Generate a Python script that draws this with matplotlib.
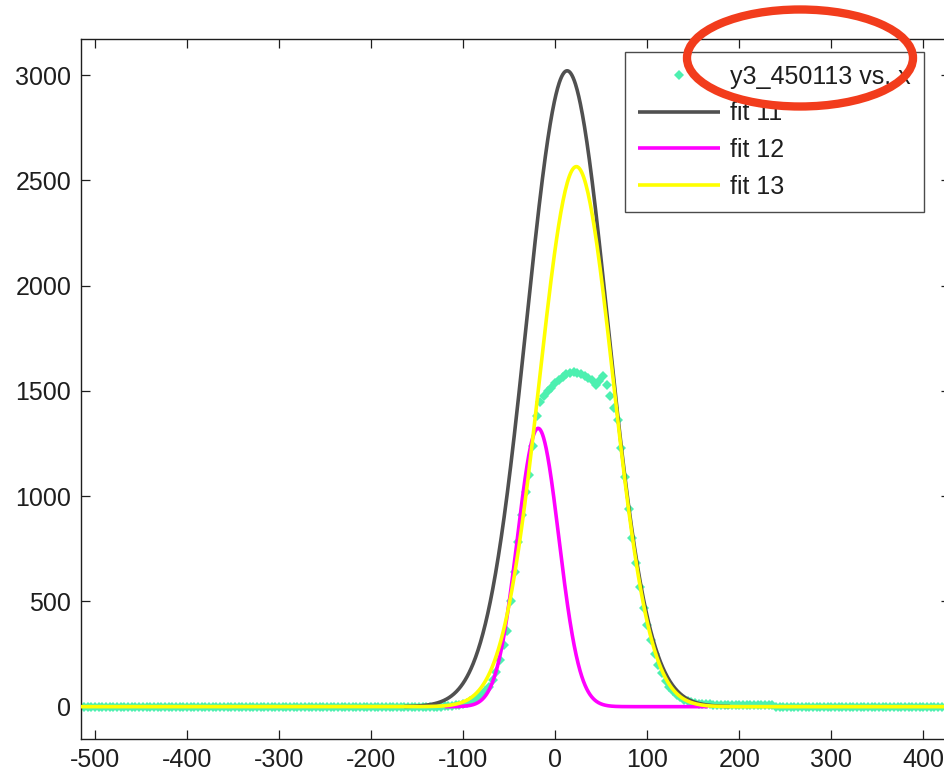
import numpy as np
import matplotlib
matplotlib.use("Agg")
import matplotlib.pyplot as plt
from matplotlib.patches import Ellipse

plt.rcParams["font.family"] = ["Liberation Sans", "DejaVu Sans"]
plt.rcParams["axes.unicode_minus"] = False

# ---- measured data: y3_450113 vs. x (baseline is zero outside the peak) ----
x_data = np.arange(-512, 424, 4)
peak_x_start = -120
peak_y = [
    2, 3, 4, 6, 9, 13, 18, 25, 34, 45,
    58, 75, 95, 125, 165, 222, 292, 360, 500, 640,
    780, 910, 1020, 1100, 1240, 1380, 1445, 1475, 1500, 1515,
    1535, 1550, 1565, 1578, 1586, 1590, 1585, 1578, 1570, 1560,
    1550, 1530, 1545, 1570, 1530, 1475, 1420, 1360, 1230, 1090,
    940, 800, 680, 570, 470, 390, 315, 250, 200, 158,
    122, 95, 74, 57, 44, 34, 27, 22, 18, 15,
    13, 12, 11, 10, 10, 9, 9, 9, 9, 9,
    9, 9, 9, 9, 9, 8, 8, 8, 8, 8,
    0,
]
y_data = np.zeros(len(x_data))
i0 = int(np.searchsorted(x_data, peak_x_start))
y_data[i0:i0 + len(peak_y)] = peak_y

# ---- Gaussian fits (gauss1): amplitude, centre, width, plotted x-range ----
fit_names = ["fit 11", "fit 12", "fit 13"]
fit_amp = [3020, 1322, 2565]
fit_mu = [13.0, -18.5, 23.0]
fit_sigma = [44.0, 22.5, 40.0]
fit_xmin = [-164, -120, -516]
fit_xmax = [190, 166, 430]
fit_colors = ["#505050", "#ff00ff", "#ffff00"]

data_color = "#4df0b0"
ink = "#1e1e1e"

fig = plt.figure(figsize=(9.45, 7.74), dpi=100)
fig.patch.set_facecolor("white")
ax = fig.add_axes([81 / 945, 1 - 739.3 / 774, (950 - 81) / 945, (739.3 - 39) / 774])

handles = []
h, = ax.plot(x_data, y_data, linestyle="none", marker="D", markersize=5.5,
             markeredgewidth=0, color=data_color, zorder=2,
             label="y3_450113 vs. x")
handles.append(h)

for k in range(3):
    xs = np.linspace(fit_xmin[k], fit_xmax[k], 800)
    ys = fit_amp[k] * np.exp(-((xs - fit_mu[k]) ** 2) / (2 * fit_sigma[k] ** 2))
    h, = ax.plot(xs, ys, color=fit_colors[k], lw=2.6, zorder=3 + k,
                 solid_capstyle="butt", label=fit_names[k])
    handles.append(h)

ax.set_xlim(-515.2, 429)
ax.set_ylim(-155, 3171)
ax.set_xticks(np.arange(-500, 401, 100))
ax.set_yticks(np.arange(0, 3001, 500))

for sp in ax.spines.values():
    sp.set_color(ink)
    sp.set_linewidth(1.0)
ax.tick_params(direction="in", length=6.5, width=0.9, colors=ink,
               top=True, right=True, labelsize=18)
ax.tick_params(axis="x", pad=6.5)
ax.tick_params(axis="y", pad=7)

leg = ax.legend(handles=handles, loc="upper left",
                bbox_to_anchor=(625 / 945, 1 - 52 / 774),
                bbox_transform=fig.transFigure, borderaxespad=0,
                fontsize=18, frameon=True, fancybox=False, shadow=False,
                borderpad=0.52, labelspacing=0.5, handlelength=3.3,
                handletextpad=0.4, numpoints=1, markerscale=1.0)
leg.get_frame().set_edgecolor(ink)
leg.get_frame().set_linewidth(1.0)
leg.set_zorder(10)
for t in leg.get_texts():
    t.set_color(ink)

# highlight ring drawn over the figure in pixel units
over = fig.add_axes([0, 0, 1, 1], facecolor="none")
over.set_xlim(0, 945)
over.set_ylim(774, 0)
over.axis("off")
over.add_patch(Ellipse((800, 58), 226, 97, fill=False,
                       edgecolor="#f23c1c", linewidth=6.0))

fig.savefig("out.png", dpi=100, facecolor="white")
